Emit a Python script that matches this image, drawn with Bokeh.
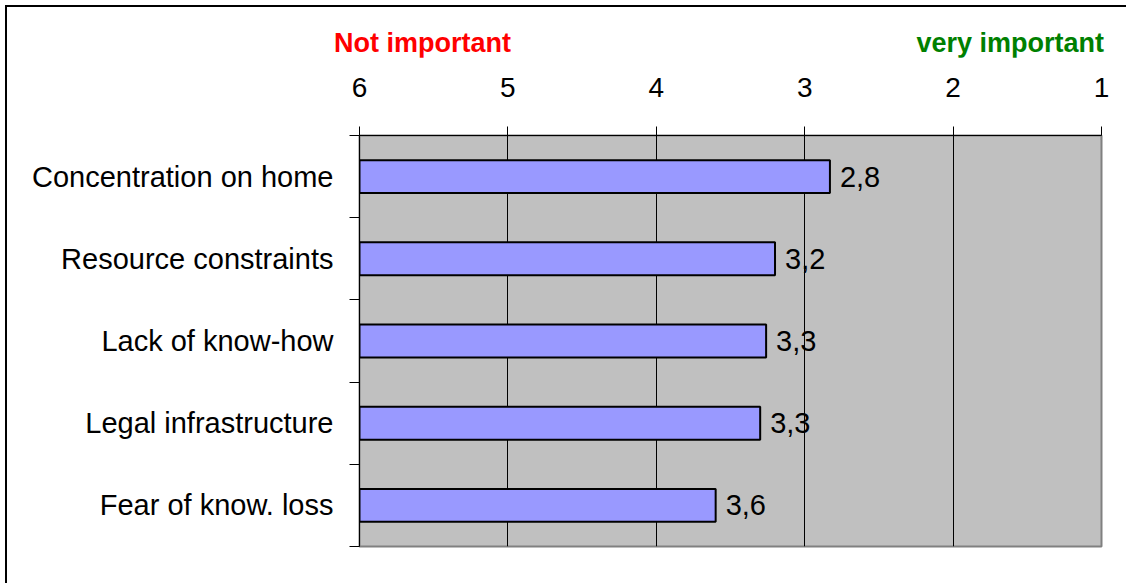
from bokeh.plotting import figure
from bokeh.models import Range1d, FixedTicker, ColumnDataSource, Div
from bokeh.layouts import column, row
from bokeh.core.properties import value
from bokeh.embed import file_html
from bokeh.resources import INLINE

categories = ["Concentration on home", "Resource constraints", "Lack of know-how",
              "Legal infrastructure", "Fear of know. loss"]
values = [2.83, 3.2, 3.26, 3.3, 3.6]
scale_ticks = [6, 5, 4, 3, 2, 1]
low_label = "Not important"
high_label = "very important"

FONT = "Liberation Sans"
W = 1119          # figure canvas width
HEAD = 52         # header strip (with top border) height
PH = 526          # figure canvas height
n = len(categories)
ypos = [n - i - 0.5 for i in range(n)]
labels = [f"{v:.1f}".replace(".", ",") for v in values]
src = ColumnDataSource(dict(y=ypos, v=values, lab=labels, base=[max(scale_ticks)] * n))

span = ("position:absolute;top:23px;line-height:27px;font-family:'Liberation Sans';"
        "font-size:27px;font-weight:bold;white-space:nowrap;")
head = Div(width=W + 2, height=HEAD, margin=0,
           text=(f"<div style=\"position:relative;width:{W + 2}px;height:{HEAD}px;"
                 "border-top:2px solid black;border-left:2px solid black;box-sizing:border-box;\">"
                 f"<span style=\"{span}left:327px;color:#FF0000;\">{low_label}</span>"
                 f"<span style=\"{span}right:{W - 1097}px;color:#008000;\">{high_label}</span>"
                 "</div>"))

edge = Div(width=2, height=PH, margin=0, text="", styles={"background-color": "black"})

p = figure(width=W, height=PH,
           x_range=Range1d(max(scale_ticks), min(scale_ticks)), y_range=Range1d(0, n),
           x_axis_location="above", toolbar_location=None, output_backend="svg",
           min_border_left=352, min_border_right=W - 352 - 742,
           min_border_top=128 - 50, min_border_bottom=PH - 78 - 411,
           background_fill_color="#C0C0C0", border_fill_color="white",
           outline_line_color="#808080", outline_line_width=2)

xa = p.xaxis[0]
xa.ticker = FixedTicker(ticks=scale_ticks)
xa.major_tick_out = 9
xa.major_tick_in = 0
xa.minor_tick_line_color = None
xa.axis_line_color = "black"
xa.major_tick_line_color = "black"
xa.major_label_text_font = FONT
xa.major_label_text_font_size = "28px"
xa.major_label_text_color = "black"
xa.major_label_standoff = 30

ya = p.yaxis[0]
ya.ticker = FixedTicker(ticks=ypos, minor_ticks=list(range(n + 1)))
ya.major_label_overrides = {y: c for y, c in zip(ypos, categories)}
ya.major_tick_line_color = None
ya.major_tick_out = 0
ya.major_tick_in = 0
ya.minor_tick_out = 10
ya.minor_tick_in = 0
ya.minor_tick_line_color = "black"
ya.axis_line_color = "black"
ya.major_label_text_font = FONT
ya.major_label_text_font_size = "29px"
ya.major_label_text_color = "black"
ya.major_label_standoff = 16

p.ygrid.grid_line_color = None
p.xgrid.ticker = FixedTicker(ticks=scale_ticks[1:-1])
p.xgrid.grid_line_color = "black"
p.xgrid.grid_line_width = 1

p.hbar(y="y", left="base", right="v", height=0.4, fill_color="#9999FF",
       line_color="black", line_width=2, source=src)
p.text(x="v", y="y", text="lab", x_offset=10, text_baseline="middle", text_align="left",
       text_font=value(FONT), text_font_size="29px", text_color="black", source=src)

body = row(edge, p, spacing=0, margin=0)
layout = column(head, body, spacing=0, margin=0,
                styles={"margin-left": "5px", "margin-top": "5px"})

open("out.html", "w").write(file_html(layout, INLINE))
